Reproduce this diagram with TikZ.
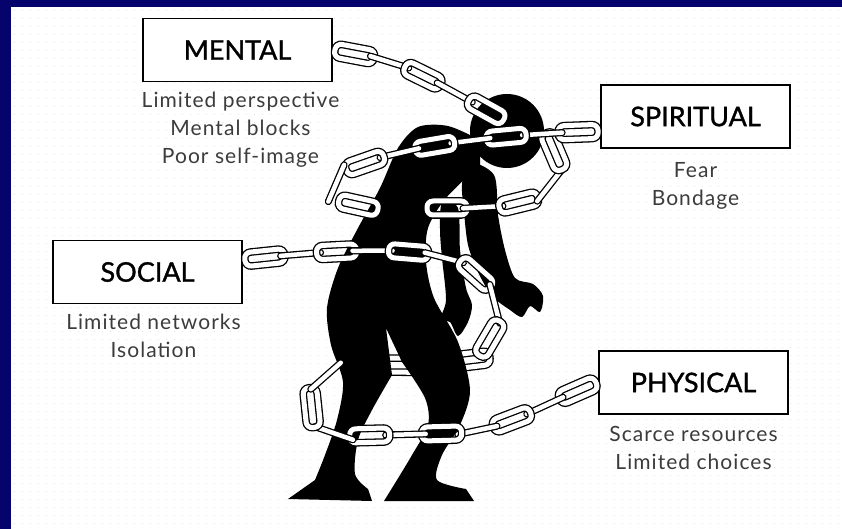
\documentclass[tikz,border=0pt]{standalone}
\usepackage{fontspec}
\setmainfont{Lato}
\newfontfamily\headfont[FakeBold=1.2]{Lato}
\newfontfamily\notefont[LetterSpace=5]{Lato}
\usetikzlibrary{positioning,calc,decorations.markings}
\definecolor{frameblue}{RGB}{4,4,108}
\definecolor{notegray}{RGB}{60,60,60}
\newcommand\chainpiece{%
	\pgfmathtruncatemacro\linkno{mod(\pgfkeysvalueof{/pgf/decoration/mark info/sequence number},2)}%
	\ifnum\linkno=1
		\draw[linkface] (-20pt,-7pt) rectangle (20pt,7pt);
	\else
		\draw[linkedge] (-20pt,0pt) -- (20pt,0pt);
	\fi}

\begin{document}
\begin{tikzpicture}[x=1pt,y=-1pt,
	box/.style={draw=black,line width=1.8pt,fill=white,minimum width=189pt,minimum height=63pt,font=\headfont\fontsize{27}{32}\selectfont},
	notes/.style={align=center,inner sep=0pt,text=notegray,font=\notefont\fontsize{21}{28}\selectfont},
	linkface/.style={draw=black,line width=1.3pt,double=white,double distance=5pt,rounded corners=6pt},
	linkedge/.style={draw=black,line width=1.3pt,double=white,double distance=4.5pt,line cap=round},
	chain/.style={postaction={decorate},decoration={markings,mark=between positions #1 and 1 step 36pt with {\chainpiece}}},
	chain/.default=22pt,
	figure/.style={fill=black},
	bgdots/.style={draw=gray!22,line width=1pt,dash pattern=on 1pt off 7pt}]
	\useasboundingbox (0,0) rectangle (842,529);
	\fill[frameblue] (0,0) rectangle (842,529);
	\fill[white] (11,7) rectangle (842,529);
	\foreach \y in {11,19,...,527}
		\draw[bgdots] (14,\y) -- (842,\y);

	\node[box] (mental) at (237.5,50) {MENTAL};
	\node[notes,below=9pt of mental,xshift=3pt] (mentalnotes) {Limited perspective\\Mental blocks\\Poor self-image};
	\node[box] (spiritual) at (695.5,116.5) {SPIRITUAL};
	\node[notes,below=13pt of spiritual] (spiritualnotes) {Fear\\Bondage};
	\node[box] (social) at (147.5,272) {SOCIAL};
	\node[notes,below=9pt of social,xshift=6pt] (socialnotes) {Limited networks\\Isolation};
	\node[box] (physical) at (693.5,382.5) {PHYSICAL};
	\node[notes,below=11pt of physical] (physicalnotes) {Scarce resources\\Limited choices};

	\coordinate (spirithook) at ($(spiritual.west)+(0,15)$);
	\coordinate (socialhook) at ($(social.east)+(0,-12)$);
	\coordinate (mentalend) at (490,112);

	\path[chain=0pt] (470,360) .. controls (420,366) .. (350,364);

	\fill[figure] plot[smooth cycle,tension=.5] coordinates {(442,203) (458,208) (460,250) (466,288) (472,305) (468,322) (458,336) (450,322) (440,320) (446,300) (442,258) (440,230)};
	\fill[figure] plot[smooth cycle,tension=.5] coordinates {(468,162) (494,175) (498,215) (505,250) (515,278) (533,284) (543,296) (540,312) (530,306) (522,317) (510,310) (492,296) (478,272) (468,245) (464,212) (462,185)};
	\fill[figure] plot[smooth,tension=.5] coordinates {(480,140) (448,126) (418,127) (398,148) (380,188) (358,228) (338,268) (327,308) (331,345) (343,382) (337,420) (325,455) (315,480)}
		-- (288,499) -- (372,501)
		-- plot[smooth,tension=.5] coordinates {(368,489) (355,474) (358,440) (372,410) (392,375)}
		-- (386,328)
		-- plot[smooth,tension=.5] coordinates {(402,362) (425,398) (428,425) (412,455) (397,480)}
		-- (384,501) -- (474,501)
		-- plot[smooth,tension=.5] coordinates {(466,489) (437,480) (442,455) (460,425) (470,390) (458,342) (434,298) (426,262) (428,228) (446,198) (480,165)}
		-- cycle;
	\fill[figure] (507,131) circle (37pt);

	\path[chain] (mental.east) .. controls (400,62) .. (mentalend);
	\path[chain=0pt] (447,208) .. controls (500,208) and (540,205) .. (553,180) .. controls (560,163) and (556,150) .. (548,142);
	\path[chain] (spirithook) .. controls (520,133) and (420,143) .. (365,163) .. controls (322,178) and (322,208) .. (388,208);
	\path[chain] (socialhook) .. controls (330,250) and (420,244) .. (462,264) .. controls (505,290) and (508,335) .. (468,360);
	\path[chain] (physical.west) .. controls (555,398) and (510,428) .. (460,433) -- (348,436) .. controls (298,432) and (300,378) .. (350,363);
\end{tikzpicture}
\end{document}
